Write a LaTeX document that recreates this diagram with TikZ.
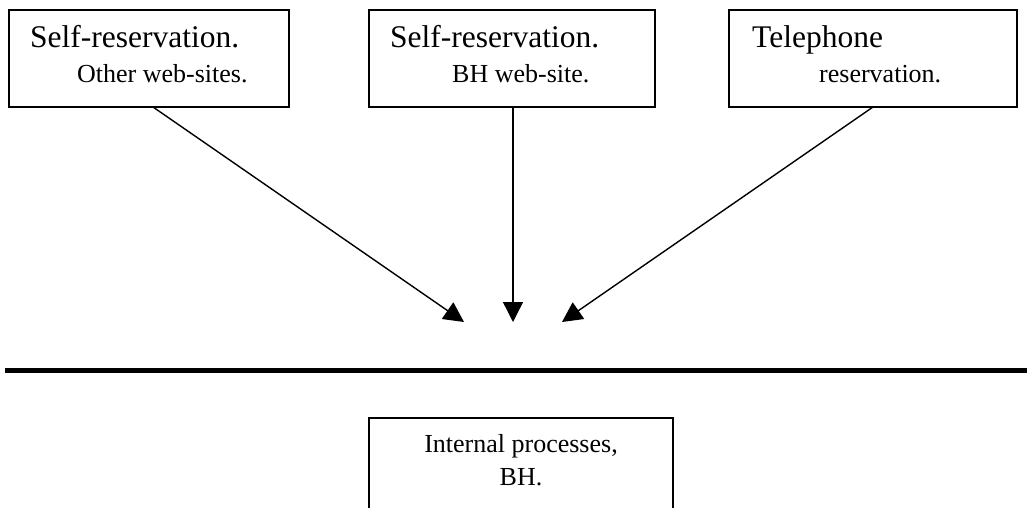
\documentclass[tikz,border=0pt]{standalone}
\usepackage{fontspec}
\setmainfont{Liberation Serif}
\usetikzlibrary{arrows.meta}
\begin{document}
\begin{tikzpicture}[x=1pt,y=-1pt,
  box/.style={draw=black,line width=1.4pt,inner sep=0pt,fill=none},
  bigtxt/.style={anchor=base west,inner sep=0pt,font=\fontsize{31.5}{36}\selectfont},
  smalltxt/.style={anchor=base west,inner sep=0pt,font=\fontsize{26}{30}\selectfont},
  feed/.style={line width=1.4pt,-{Triangle[length=20pt,width=20pt]}}]
\useasboundingbox (0,0) rectangle (1027,508);
\clip (0,0) rectangle (1027,508);
% source boxes
\node[box,minimum width=280pt,minimum height=97pt] (b1) at (149,58.5) {};
\node[box,minimum width=286pt,minimum height=97pt] (b2) at (512,58.5) {};
\node[box,minimum width=288pt,minimum height=97pt] (b3) at (873,58.5) {};
% box texts
\node[bigtxt] (t1a) at (30,48) {Self-reservation.};
\node[smalltxt] (t1b) at (77,83) {Other web-sites.};
\node[bigtxt] (t2a) at (390,48) {Self-reservation.};
\node[smalltxt] (t2b) at (452,83) {BH web-site.};
\node[bigtxt] (t3a) at (752,48) {Telephone};
\node[smalltxt] (t3b) at (819,83) {reservation.};
% arrow ends
\coordinate (s1) at (153,107);
\coordinate (s2) at (513,107);
\coordinate (s3) at (873,107);
\coordinate (e1) at (464,322);
\coordinate (e2) at (513,322);
\coordinate (e3) at (562,322);
\draw[feed] (s1) -- (e1);
\draw[feed] (s2) -- (e2);
\draw[feed] (s3) -- (e3);
% divider
\coordinate (dl) at (5,370.5);
\coordinate (dr) at (1027,370.5);
\draw[line width=5pt] (dl) -- (dr);
% internal box
\node[box,minimum width=304pt,minimum height=120pt] (b4) at (521,478) {};
\node[anchor=base,inner sep=0pt,font=\fontsize{26}{30}\selectfont] (t4a) at (521,452) {Internal processes,};
\node[anchor=base,inner sep=0pt,font=\fontsize{26}{30}\selectfont] (t4b) at (521,485) {BH.};
\end{tikzpicture}
\end{document}
